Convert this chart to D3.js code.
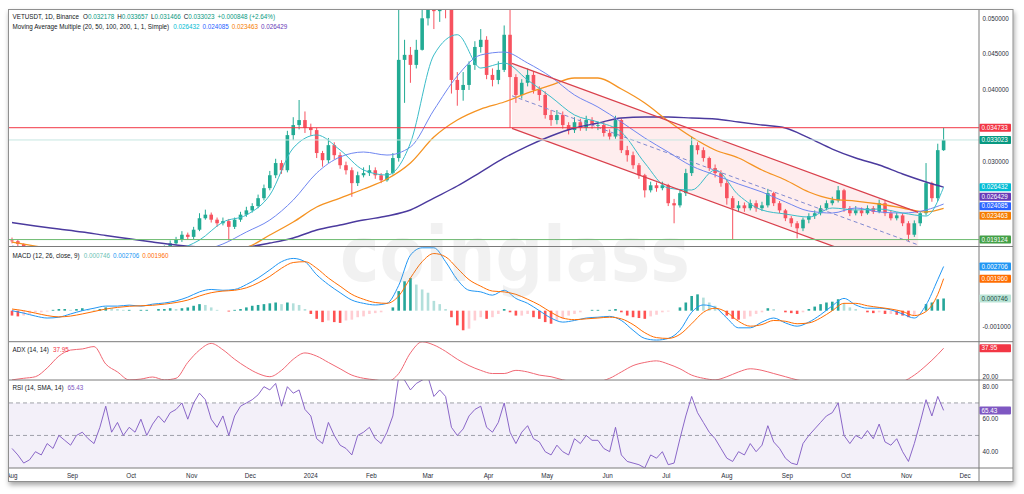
<!DOCTYPE html>
<html><head><meta charset="utf-8">
<script src="https://cdn.jsdelivr.net/npm/d3@7"></script>
<style>
html,body{margin:0;padding:0;background:#fff;}
svg{display:block;font-family:"Liberation Sans",Arial,sans-serif;}
</style></head><body>
<svg id="chart" width="1024" height="494"></svg>
<script>
// ---------------- DATA ----------------
const startDate = Date.UTC(2023, 7, 1);
const candleStepDays = 3;
const firstOpen = 0.0190;
const closes = [
0.0189,0.0185,0.0176,0.0170,0.0165,0.0163,0.0161,0.0160,0.0162,0.0160,
0.0158,0.0160,0.0161,0.0159,0.0157,0.0160,0.0163,0.0162,0.0165,0.0163,
0.0166,0.0168,0.0170,0.0169,0.0172,0.0176,0.0180,0.0186,0.0191,0.0198,
0.0195,0.0205,0.0221,0.0226,0.0219,0.0214,0.0217,0.0209,0.0219,0.0226,
0.0232,0.0238,0.0249,0.0263,0.0281,0.0298,0.0288,0.0337,0.0351,0.0358,
0.0347,0.0344,0.0312,0.0302,0.0323,0.0309,0.0295,0.0288,0.0270,0.0281,
0.0284,0.0288,0.0281,0.0274,0.0284,0.0305,0.0442,0.0449,0.0435,0.0456,
0.0500,0.0530,0.0510,0.0540,0.0520,0.0414,0.0400,0.0407,0.0435,0.0460,
0.0470,0.0421,0.0414,0.0428,0.0477,0.0418,0.0393,0.0410,0.0421,0.0400,
0.0393,0.0365,0.0358,0.0365,0.0351,0.0344,0.0355,0.0347,0.0358,0.0351,
0.0351,0.0340,0.0335,0.0358,0.0316,0.0309,0.0295,0.0281,0.0260,0.0267,
0.0263,0.0267,0.0242,0.0239,0.0256,0.0284,0.0323,0.0316,0.0305,0.0291,
0.0284,0.0270,0.0249,0.0235,0.0239,0.0235,0.0242,0.0235,0.0239,0.0256,
0.0242,0.0232,0.0221,0.0214,0.0207,0.0219,0.0224,0.0228,0.0235,0.0242,
0.0246,0.0260,0.0235,0.0228,0.0232,0.0228,0.0235,0.0230,0.0242,0.0228,
0.0221,0.0225,0.0214,0.0198,0.0214,0.0228,0.0270,0.0249,0.0316,0.0330];
const highs = [
0.0194,0.0191,0.0186,0.0178,0.0172,0.0167,0.0165,0.0163,0.0165,0.0164,
0.0162,0.0162,0.0164,0.0163,0.0161,0.0162,0.0166,0.0165,0.0167,0.0167,
0.0168,0.0171,0.0173,0.0172,0.0175,0.0179,0.0183,0.0190,0.0195,0.0203,
0.0201,0.0209,0.0228,0.0233,0.0229,0.0222,0.0222,0.0220,0.0222,0.0230,
0.0237,0.0242,0.0254,0.0268,0.0287,0.0304,0.0302,0.0343,0.0362,0.0386,
0.0370,0.0353,0.0347,0.0315,0.0333,0.0327,0.0313,0.0300,0.0292,0.0286,
0.0292,0.0295,0.0292,0.0284,0.0288,0.0312,0.0512,0.0470,0.0460,0.0470,
0.0545,0.0560,0.0550,0.0575,0.0560,0.0520,0.0425,0.0425,0.0440,0.0468,
0.0485,0.0475,0.0430,0.0440,0.0490,0.0515,0.0422,0.0415,0.0430,0.0426,
0.0405,0.0398,0.0372,0.0372,0.0370,0.0355,0.0362,0.0360,0.0364,0.0362,
0.0356,0.0355,0.0345,0.0364,0.0360,0.0322,0.0314,0.0298,0.0283,0.0272,
0.0271,0.0272,0.0269,0.0248,0.0260,0.0290,0.0335,0.0327,0.0320,0.0307,
0.0296,0.0288,0.0275,0.0252,0.0245,0.0243,0.0247,0.0246,0.0244,0.0262,
0.0258,0.0245,0.0234,0.0224,0.0217,0.0222,0.0228,0.0232,0.0239,0.0246,
0.0251,0.0266,0.0262,0.0238,0.0238,0.0236,0.0239,0.0238,0.0247,0.0246,
0.0232,0.0229,0.0228,0.0217,0.0218,0.0231,0.0298,0.0272,0.0325,0.0347];
const lows = [
0.0186,0.0182,0.0174,0.0168,0.0163,0.0160,0.0159,0.0158,0.0158,0.0158,
0.0155,0.0156,0.0158,0.0157,0.0155,0.0156,0.0159,0.0160,0.0160,0.0161,
0.0162,0.0165,0.0166,0.0167,0.0167,0.0170,0.0174,0.0178,0.0184,0.0188,
0.0191,0.0192,0.0203,0.0219,0.0215,0.0209,0.0211,0.0190,0.0206,0.0216,
0.0223,0.0229,0.0235,0.0246,0.0260,0.0277,0.0283,0.0285,0.0330,0.0345,
0.0340,0.0336,0.0305,0.0293,0.0298,0.0303,0.0290,0.0282,0.0251,0.0266,
0.0278,0.0280,0.0276,0.0270,0.0272,0.0282,0.0300,0.0382,0.0410,0.0430,
0.0455,0.0490,0.0485,0.0495,0.0500,0.0395,0.0378,0.0385,0.0400,0.0428,
0.0452,0.0415,0.0405,0.0408,0.0425,0.0347,0.0382,0.0388,0.0405,0.0395,
0.0385,0.0360,0.0350,0.0352,0.0346,0.0338,0.0340,0.0343,0.0343,0.0346,
0.0344,0.0335,0.0330,0.0332,0.0312,0.0300,0.0290,0.0276,0.0250,0.0257,
0.0258,0.0260,0.0238,0.0214,0.0236,0.0252,0.0280,0.0310,0.0300,0.0287,
0.0278,0.0265,0.0240,0.0191,0.0230,0.0230,0.0232,0.0230,0.0231,0.0236,
0.0238,0.0228,0.0217,0.0209,0.0193,0.0203,0.0214,0.0220,0.0225,0.0232,
0.0239,0.0243,0.0230,0.0224,0.0225,0.0224,0.0226,0.0227,0.0228,0.0224,
0.0218,0.0218,0.0210,0.0189,0.0195,0.0210,0.0225,0.0244,0.0245,0.0315];

// moving averages, sampled every 12 days (last sample = last candle day)
const maDays = [0,12,24,36,48,60,72,84,96,108,120,132,144,156,168,180,192,204,216,228,240,252,264,276,288,300,312,324,336,348,360,372,384,396,408,420,432,444,456,468,477];
const ma20 = [0.01809,0.01711,0.01655,0.01655,0.01669,0.01683,0.01711,0.01767,0.01906,0.02157,0.02255,0.02534,0.03190,0.03372,0.03162,0.02883,0.02813,0.03260,0.04488,0.04771,0.04306,0.04376,0.04139,0.03902,0.03651,0.03553,0.03413,0.02981,0.02632,0.02604,0.02883,0.02534,0.02325,0.02269,0.02227,0.02353,0.02325,0.02339,0.02283,0.02241,0.026432];
const ma50 = [0.01822,0.01767,0.01711,0.01683,0.01669,0.01669,0.01683,0.01711,0.01753,0.01851,0.02018,0.02185,0.02464,0.02841,0.03065,0.03134,0.03092,0.03204,0.03720,0.04195,0.04488,0.04529,0.04376,0.04181,0.03930,0.03762,0.03553,0.03330,0.03134,0.02939,0.02813,0.02688,0.02576,0.02437,0.02311,0.02283,0.02353,0.02297,0.02283,0.02325,0.024085];
const ma100 = [0.01878,0.01822,0.01767,0.01739,0.01725,0.01725,0.01739,0.01753,0.01767,0.01781,0.01809,0.01976,0.02157,0.02367,0.02492,0.02618,0.02757,0.02981,0.03343,0.03581,0.03734,0.03832,0.03958,0.04069,0.04167,0.04167,0.04013,0.03818,0.03567,0.03344,0.03162,0.03051,0.02883,0.02744,0.02576,0.02478,0.02450,0.02409,0.02353,0.02297,0.023463];
const ma200 = [0.02150,0.02102,0.02060,0.02018,0.01969,0.01924,0.01878,0.01837,0.01809,0.01795,0.01809,0.01864,0.01934,0.02046,0.02116,0.02185,0.02241,0.02325,0.02492,0.02660,0.02855,0.03051,0.03218,0.03358,0.03469,0.03539,0.03609,0.03623,0.03623,0.03609,0.03595,0.03553,0.03511,0.03469,0.03330,0.03176,0.03051,0.02953,0.02827,0.02716,0.026429];

// price levels and channel drawing
const levelHigh = 0.034733, levelLast = 0.033023, levelLow = 0.019124;
const channelDays = [256, 464];
const channelTop = [0.04372, 0.02291];
const channelBottom = [0.03465, 0.01384];

// indicators sampled every 6 days (last sample = last candle day)
const macdLine = [0.0,-0.00015,-0.00033,-0.00045,-0.0004,-0.0002,0.0,0.00015,0.00028,0.00028,
0.00034,0.00028,0.0004,0.00047,0.0006,0.00083,0.00115,0.0013,0.00125,0.0013,
0.0016,0.002,0.0025,0.003,0.0032,0.003,0.0022,0.0016,0.0011,0.00065,
0.00045,0.00035,0.00045,0.00155,0.0034,0.00385,0.00385,0.003,0.0019,0.00125,
0.00115,0.00095,0.00125,0.00075,0.00045,0.0,-0.00045,-0.0007,-0.0006,-0.00045,
-0.0004,-0.00035,-0.0006,-0.0012,-0.0017,-0.0018,-0.0017,-0.0012,-0.0001,0.00035,
0.0002,-0.00045,-0.00105,-0.00105,-0.0007,-0.00045,-0.00075,-0.00095,-0.0007,-0.00025,
0.0003,0.00075,0.00035,0.00015,0.00015,0.00005,-0.0002,-0.00045,0.00035,0.0019,0.002706];
const signalLine = [0.0001,0.0,-0.00015,-0.0003,-0.00038,-0.00033,-0.0002,-0.00005,0.0001,0.0002,
0.00027,0.0003,0.00033,0.0004,0.0005,0.00065,0.0009,0.0011,0.0012,0.00125,
0.0014,0.0017,0.0021,0.0026,0.00295,0.003,0.0026,0.002,0.0015,0.001,
0.0007,0.0005,0.00045,0.0009,0.002,0.003,0.0035,0.0033,0.0026,0.0019,
0.0015,0.0012,0.00115,0.001,0.0007,0.00035,-0.0001,-0.00045,-0.00055,-0.0005,
-0.00045,-0.0004,-0.0005,-0.00085,-0.00135,-0.00165,-0.0017,-0.00145,-0.0008,-0.0001,
0.00015,-0.0001,-0.00065,-0.00095,-0.00085,-0.0006,-0.00065,-0.0008,-0.00075,-0.00045,
0.0,0.00045,0.00045,0.0003,0.0002,0.0001,-0.00005,-0.0003,-0.00005,0.001,0.00196];
const adxLine = [18,19,20,25.5,33,36.8,37.5,39,28,23,
18,18.5,19.8,18,19,29,36.8,41,37,31,
26,22,20,24,31,35,33,29,25,21,
19,18,17,22,35,42,40,36,31,27,
24,22,22,24,23,21,20,18,17,17,
17,19,23,27,29,30,28,25,21,19,
18,20,23,25,24,22,20,18,17,17,
16,17,16,16,16,16,17,21,27,34,37.95];

// indicators sampled every 3 days (one per candle)
const macdHist = [-0.0003,-0.00035,-0.0003,-0.0002,-0.0001,-0.0001,-0.00005,0.00005,0.0001,0.0001,
0.00005,0.0001,0.00015,0.0001,0.00005,0.0001,0.0002,0.00015,0.0001,0.00005,
0.00005,0.0,0.00005,0.00005,0.0,0.0001,0.0001,0.00015,0.0001,0.00015,
0.0002,0.0003,0.0004,0.00035,0.0002,0.00005,0.0,-0.00005,0.00005,0.0001,
0.0002,0.0003,0.00035,0.0004,0.00045,0.0005,0.0004,0.0005,0.00045,0.00035,
0.0001,-0.0002,-0.0005,-0.0007,-0.0006,-0.0007,-0.00075,-0.0006,-0.00055,-0.0004,
-0.00035,-0.0002,-0.00015,-0.0001,0.0,0.0002,0.0012,0.0018,0.002,0.0016,
0.0013,0.0011,0.0006,0.0004,0.0001,-0.0004,-0.0009,-0.0012,-0.0011,-0.0006,
-0.0004,-0.0005,-0.0004,-0.0002,0.0001,-0.0001,-0.0003,-0.0003,-0.0002,-0.0004,
-0.0005,-0.0007,-0.0008,-0.0006,-0.0005,-0.0003,-0.0002,-0.0001,0.0,0.00005,
0.00005,0.0,0.00005,0.0001,-0.0001,-0.0003,-0.0004,-0.00045,-0.0005,-0.00035,
-0.00025,-0.0001,-0.00005,0.0,0.0002,0.0005,0.0009,0.001,0.0008,0.0005,
0.0003,0.0,-0.0003,-0.0005,-0.00055,-0.0005,-0.00035,-0.0002,-0.0001,0.00015,
0.0001,0.0,-0.0001,-0.00015,-0.0002,-0.0001,0.0001,0.00025,0.0004,0.0005,
0.00055,0.0007,0.00045,0.0002,0.0001,0.0,-0.0001,-0.00015,-0.0001,-0.0002,
-0.0002,-0.00025,-0.0003,-0.0004,-0.0003,0.0,0.0004,0.0005,0.0007,0.000746];
const rsiLine = [42,38,33,35,40,38,45,42,50,47,
44,50,52,48,45,55,68,52,58,50,
55,52,60,50,57,62,58,64,66,70,
60,70,76,72,60,55,62,50,62,68,
70,72,75,80,78,82,68,80,76,78,
66,62,48,45,58,50,44,42,38,50,
52,55,48,45,52,62,86,84,78,82,
84,86,74,78,74,55,50,54,62,66,
68,55,52,58,70,52,45,52,56,48,
46,40,38,44,40,38,48,45,50,47,
47,42,40,55,38,34,33,32,30,38,
36,40,32,33,48,62,74,64,58,52,
48,42,36,34,40,38,45,40,44,56,
46,42,36,33,32,45,50,54,58,62,
64,70,50,45,50,48,53,48,57,46,
44,48,40,34,45,58,72,62,74,65.43];

const monthTicks = ["2023-08-01","2023-09-01","2023-10-01","2023-11-01","2023-12-01","2024-01-01","2024-02-01","2024-03-01","2024-04-01","2024-05-01","2024-06-01","2024-07-01","2024-08-01","2024-09-01","2024-10-01","2024-11-01","2024-12-01"];
const monthLabels = ["Aug","Sep","Oct","Nov","Dec","2024","Feb","Mar","Apr","May","Jun","Jul","Aug","Sep","Oct","Nov","Dec"];
const priceTicks = [0.020,0.025,0.030,0.035,0.040,0.045,0.050];
const macdTicks = [-0.001,0.001,0.003];
const adxTicks = [20,40];
const rsiTicks = [40,60,80];

// ---------------- DRAWING ----------------
const svg = d3.select('#chart');
const DAY = 86400000;
const dateOf = d => new Date(startDate + d * DAY);
const L = 9, R = 979, AX = 1013;
const P = {price:[10,246.5], macd:[246.5,341.7], adx:[341.7,380], rsi:[380,468]};
const x = d3.scaleUtc().domain([dateOf(0), new Date(Date.UTC(2024,11,1))]).range([12, 965.1]);
const yP = d3.scaleLinear().domain([0.020,0.050]).range([233.3,18.3]);
const yM = d3.scaleLinear().domain([-0.001,0.003]).range([327.0,261.7]);
const yA = d3.scaleLinear().domain([20,40]).range([376.7,345.0]);
const yR = d3.scaleLinear().domain([40,80]).range([451.7,386.7]);
const FS = 6.3;
const UP = '#22ab94', DN = '#f7525f';

const defs = svg.append('defs');
const f = defs.append('filter').attr('id','sh').attr('x','-5%').attr('y','-5%').attr('width','110%').attr('height','115%');
f.append('feDropShadow').attr('dx',1).attr('dy',3).attr('stdDeviation',2.5).attr('flood-color','#000').attr('flood-opacity',0.35);
Object.entries(P).forEach(([k,[t,b]]) => {
  defs.append('clipPath').attr('id','c-'+k).append('rect').attr('x',L).attr('y',t).attr('width',R-L).attr('height',b-t);
});
defs.append('clipPath').attr('id','c-time').append('rect').attr('x',L).attr('y',468).attr('width',R-L).attr('height',13);

// frame
svg.append('rect').attr('x',8.5).attr('y',9.5).attr('width',AX-8.5).attr('height',472).attr('fill','#fff').attr('stroke','#8f8f8f').attr('filter','url(#sh)');

// ---- price panel
const gp = svg.append('g').attr('clip-path','url(#c-price)');
const chPts = [[channelDays[0],channelTop[0]],[channelDays[1],channelTop[1]],[channelDays[1],channelBottom[1]],[channelDays[0],channelBottom[0]]];
gp.append('path').attr('d', d3.line().x(d=>x(dateOf(d[0]))).y(d=>yP(d[1]))(chPts)+'Z').attr('fill','rgba(242,54,69,0.09)');
const candles = closes.map((c,i)=>{const o = i===0?firstOpen:closes[i-1];return {d:i*candleStepDays,o,c,h:Math.max(highs[i],o,c),l:Math.min(lows[i],o,c)};});
const cg = gp.append('g');
cg.selectAll('line').data(candles).join('line')
  .attr('x1',d=>x(dateOf(d.d))).attr('x2',d=>x(dateOf(d.d)))
  .attr('y1',d=>yP(d.h)).attr('y2',d=>yP(d.l))
  .attr('stroke',d=>d.c>=d.o?UP:DN).attr('stroke-width',1);
cg.selectAll('rect').data(candles).join('rect')
  .attr('x',d=>x(dateOf(d.d))-1.8).attr('width',3.6)
  .attr('y',d=>yP(Math.max(d.o,d.c))).attr('height',d=>Math.max(0.8,Math.abs(yP(d.o)-yP(d.c))))
  .attr('fill',d=>d.c>=d.o?UP:DN);
const maLine = arr => d3.line().curve(d3.curveMonotoneX).x((v,i)=>x(dateOf(maDays[i]))).y(v=>yP(v))(arr);
[[ma200,'#4b3a9e',1.4],[ma100,'#f59322',1.3],[ma50,'#6f86f0',1],[ma20,'#3bbcc8',1]].forEach(([a,c,w])=>{
  gp.append('path').attr('d',maLine(a)).attr('fill','none').attr('stroke',c).attr('stroke-width',w);
});
const segLine = (vals) => d3.line().x((v,i)=>x(dateOf(channelDays[i]))).y(v=>yP(v))(vals);
gp.append('path').attr('d',segLine(channelTop)).attr('stroke','#d9404c').attr('stroke-width',1.3).attr('fill','none');
gp.append('path').attr('d',segLine(channelBottom)).attr('stroke','#d9404c').attr('stroke-width',1.3).attr('fill','none');
gp.append('path').attr('d',segLine(channelTop.map((v,i)=>(v+channelBottom[i])/2))).attr('stroke','#8089d0').attr('stroke-width',1).attr('stroke-dasharray','4,3').attr('fill','none');
gp.append('line').attr('x1',L).attr('x2',R).attr('y1',yP(levelHigh)).attr('y2',yP(levelHigh)).attr('stroke','#f23645').attr('stroke-width',1);
gp.append('line').attr('x1',L).attr('x2',R).attr('y1',yP(levelLast)).attr('y2',yP(levelLast)).attr('stroke','#c6e6e1').attr('stroke-width',1);
gp.append('line').attr('x1',L).attr('x2',R).attr('y1',yP(levelLow)).attr('y2',yP(levelLow)).attr('stroke','#6dbb70').attr('stroke-width',1);

// ---- MACD panel
const gm = svg.append('g').attr('clip-path','url(#c-macd)');
const histColor = (v,p) => v>=0 ? (v>=p?'#26a69a':'#b2dfdb') : (v<p?'#ff5252':'#ffcdd2');
gm.selectAll('rect').data(macdHist).join('rect')
  .attr('x',(v,i)=>x(dateOf(i*candleStepDays))-1.3).attr('width',2.6)
  .attr('y',v=>Math.min(yM(v),yM(0))).attr('height',v=>Math.abs(yM(v)-yM(0)))
  .attr('fill',(v,i)=>histColor(v, i?macdHist[i-1]:0));
const ind6 = arr => arr.map((v,i)=> i < arr.length-1 ? i*6 : 477);
const lineOf = (arr,ys) => { const dd = ind6(arr); return d3.line().curve(d3.curveMonotoneX).x((v,i)=>x(dateOf(dd[i]))).y(v=>ys(v))(arr); };
gm.append('path').attr('d',lineOf(macdLine,yM)).attr('fill','none').attr('stroke','#2196f3').attr('stroke-width',1);
gm.append('path').attr('d',lineOf(signalLine,yM)).attr('fill','none').attr('stroke','#ff6d00').attr('stroke-width',1);

// ---- ADX panel
const ga = svg.append('g').attr('clip-path','url(#c-adx)');
ga.append('path').attr('d',lineOf(adxLine,yA)).attr('fill','none').attr('stroke','#f06874').attr('stroke-width',1);

// ---- RSI panel
const gr = svg.append('g').attr('clip-path','url(#c-rsi)');
gr.append('rect').attr('x',L).attr('width',R-L).attr('y',yR(70)).attr('height',yR(30)-yR(70)).attr('fill','rgba(126,87,194,0.09)');
[70,50].forEach(v=>gr.append('line').attr('x1',L).attr('x2',R).attr('y1',yR(v)).attr('y2',yR(v)).attr('stroke','#8a8d96').attr('stroke-dasharray','4,3').attr('stroke-width',0.8));
gr.append('path').attr('d',d3.line().x((v,i)=>x(dateOf(i*candleStepDays))).y(v=>yR(v))(rsiLine)).attr('fill','none').attr('stroke','#7e57c2').attr('stroke-width',0.9);

// ---- separators
[P.price[1],P.macd[1],P.adx[1],P.rsi[1]].forEach(y=>svg.append('line').attr('x1',L).attr('x2',AX).attr('y1',y).attr('y2',y).attr('stroke','#7a7a7a').attr('stroke-width',1));
svg.append('line').attr('x1',R).attr('x2',R).attr('y1',10).attr('y2',481).attr('stroke','#7a7a7a').attr('stroke-width',1);

// ---- watermark
svg.append('text').attr('x',340).attr('y',281).attr('textLength',350).attr('lengthAdjust','spacingAndGlyphs')
  .attr('font-family','DejaVu Sans').attr('font-weight','bold').attr('font-size',76)
  .attr('fill','#9a9a9a').attr('opacity',0.13).text('coinglass');

// ---- tags (computed first so covered tick labels can be skipped)
function placeTags(list, gap){
  list.sort((a,b)=>a.y-b.y);
  for(let i=1;i<list.length;i++) if(list[i].y-list[i-1].y<gap) list[i].y=list[i-1].y+gap;
  return list;
}
const lastHist = macdHist[macdHist.length-1], lastMacd = macdLine[macdLine.length-1], lastSig = signalLine[signalLine.length-1];
const lastAdx = adxLine[adxLine.length-1], lastRsi = rsiLine[rsiLine.length-1];
const allTags = [].concat(
  placeTags([
    {y:yP(levelHigh),bg:'#f23645',txt:levelHigh.toFixed(6)},
    {y:yP(levelLast),bg:'#089981',txt:levelLast.toFixed(6)},
    {y:yP(ma20[ma20.length-1]),bg:'#00bcd4',txt:ma20[ma20.length-1].toFixed(6)},
    {y:yP(ma200[ma200.length-1]),bg:'#673ab7',txt:ma200[ma200.length-1].toFixed(6)},
    {y:yP(ma50[ma50.length-1]),bg:'#2962ff',txt:ma50[ma50.length-1].toFixed(6)},
    {y:yP(ma100[ma100.length-1]),bg:'#f57c00',txt:ma100[ma100.length-1].toFixed(6)},
    {y:yP(levelLow),bg:'#43a047',txt:levelLow.toFixed(6)}], 9.5),
  placeTags([
    {y:yM(lastMacd),bg:'#2196f3',txt:lastMacd.toFixed(6)},
    {y:yM(lastSig),bg:'#ff6d00',txt:lastSig.toFixed(6)},
    {y:yM(lastHist),bg:'#b9e4d6',fg:'#1e4d44',txt:lastHist.toFixed(6)}], 9.5),
  placeTags([{y:yA(lastAdx),bg:'#f23645',txt:lastAdx.toFixed(2)}],9.5),
  placeTags([{y:yR(lastRsi),bg:'#7e57c2',txt:lastRsi.toFixed(2)}],9.5)
);
const covered = y => allTags.some(t=>Math.abs(t.y-y)<6.5);

// ---- axes labels
const axText = (y,t) => { if(!covered(y)) svg.append('text').attr('x',982.5).attr('y',y+2.2).attr('font-size',FS).attr('fill','#2a2e39').text(t); };
priceTicks.forEach(v=>axText(yP(v),v.toFixed(6)));
macdTicks.forEach(v=>axText(yM(v),v.toFixed(6)));
adxTicks.forEach(v=>axText(yA(v),v.toFixed(2)));
rsiTicks.forEach(v=>axText(yR(v),v.toFixed(2)));
const gt = svg.append('g').attr('clip-path','url(#c-time)');
monthTicks.forEach((m,i)=>{
  gt.append('text').attr('x',x(new Date(m+'T00:00:00Z'))).attr('y',477.5).attr('text-anchor','middle').attr('font-size',FS).attr('fill','#2a2e39').text(monthLabels[i]);
});
allTags.forEach(t=>{
  svg.append('rect').attr('x',979.5).attr('y',t.y-4).attr('width',31.5).attr('height',8).attr('rx',0.8).attr('fill',t.bg);
  svg.append('text').attr('x',981.5).attr('y',t.y+2.2).attr('font-size',FS).attr('fill',t.fg||'#fff').text(t.txt);
});

// ---- legends
function legend(y, parts){
  const t = svg.append('text').attr('x',12.5).attr('y',y).attr('font-size',FS);
  parts.forEach(([s,c,dx])=>t.append('tspan').attr('fill',c).attr('dx',dx||0).text(s));
}
const G='#089981', K='#131722';
legend(19,[['VETUSDT, 1D, Binance',K],['O',K,4],['0.032178',G],['H',K,3],['0.033657',G],['L',K,3],['0.031466',G],['C',K,3],['0.033023',G],['+0.000848 (+2.64%)',G,3]]);
legend(28.5,[['Moving Average Multiple (20, 50, 100, 200, 1, 1, Simple)',K],[ma20[ma20.length-1].toFixed(6),'#00bcd4',4],[ma50[ma50.length-1].toFixed(6),'#2962ff',3],[ma100[ma100.length-1].toFixed(6),'#f57c00',3],[ma200[ma200.length-1].toFixed(6),'#673ab7',3]]);
legend(258,[['MACD (12, 26, close, 9)',K],[lastHist.toFixed(6),'#6cc2b4',4],[lastMacd.toFixed(6),'#2196f3',3],[lastSig.toFixed(6),'#ff6d00',3]]);
legend(352,[['ADX (14, 14)',K],[lastAdx.toFixed(2),'#f23645',4]]);
legend(390,[['RSI (14, SMA, 14)',K],[lastRsi.toFixed(2),'#7e57c2',4]]);
</script>
</body></html>
